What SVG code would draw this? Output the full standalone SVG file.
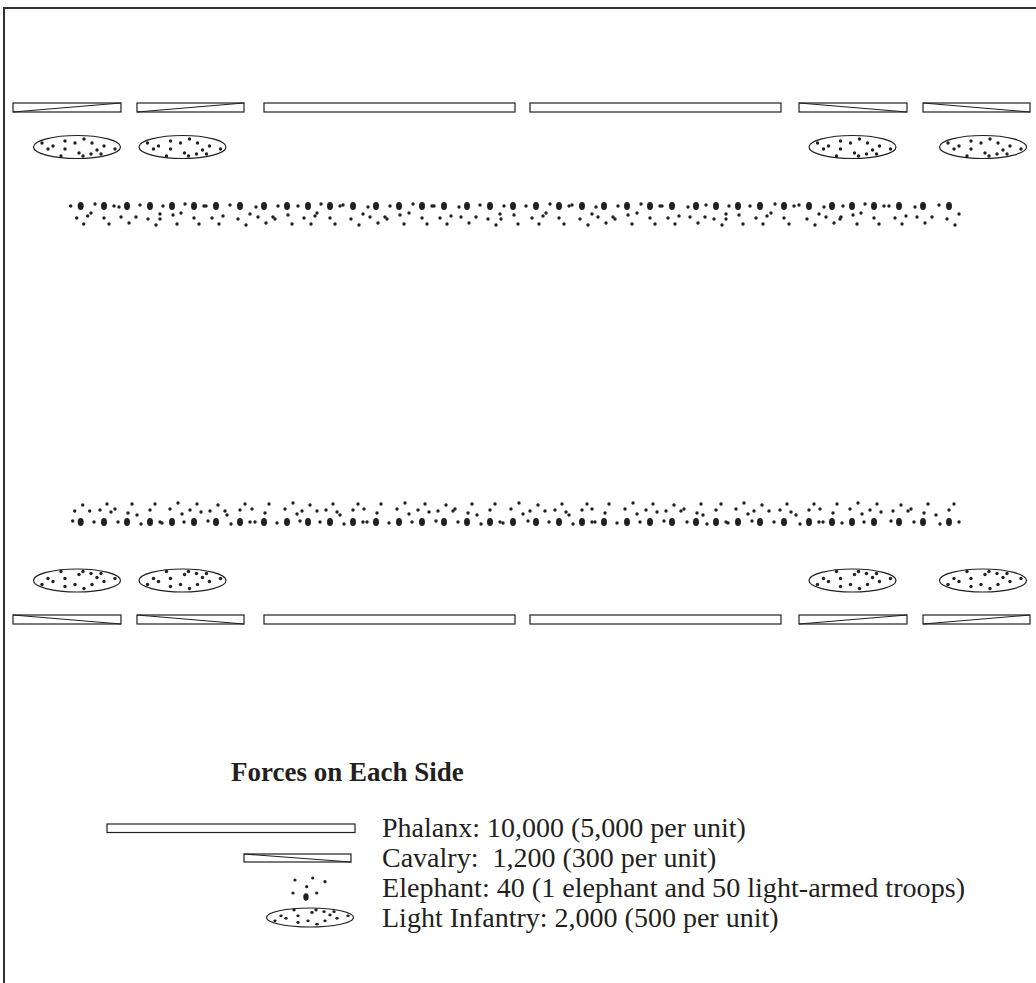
<svg xmlns="http://www.w3.org/2000/svg" xmlns:xlink="http://www.w3.org/1999/xlink" width="1036" height="983" viewBox="0 0 1036 983">
<style>
.unit{fill:#fff;stroke:#231f20;stroke-width:1.2}
.diag{fill:none;stroke:#231f20;stroke-width:1.1}
.lbl{font-family:"Liberation Serif","Times New Roman",serif;font-size:28px;fill:#231f20;white-space:pre}
.ttl{font-family:"Liberation Serif","Times New Roman",serif;font-size:27px;font-weight:bold;fill:#231f20}
.d{fill:#231f20}
</style>
<defs>
<g id="eA" class="d"><ellipse rx="3" ry="4"/><circle cx="-10" cy="0" r="1.7"/><circle cx="-4" cy="12" r="1.7"/><circle cx="7" cy="10" r="1.7"/><circle cx="3" cy="18" r="1.7"/></g>
<g id="eB" class="d"><ellipse rx="3" ry="4"/><circle cx="-9" cy="-2" r="1.7"/><circle cx="-13" cy="7" r="1.7"/><circle cx="0" cy="12" r="1.7"/><circle cx="5" cy="18" r="1.7"/><circle cx="10" cy="0" r="1.7"/></g>
<g id="eC" class="d"><ellipse rx="3" ry="4"/><circle cx="-8" cy="1" r="1.7"/><circle cx="-6" cy="11" r="1.7"/><circle cx="2" cy="17" r="1.7"/><circle cx="9" cy="11" r="1.7"/></g>
<g id="eD" class="d"><ellipse rx="3" ry="4"/><circle cx="-10" cy="-1" r="1.7"/><circle cx="-2" cy="13" r="1.7"/><circle cx="6" cy="19" r="1.7"/><circle cx="10" cy="8" r="1.7"/></g>
<g id="eE" class="d"><ellipse rx="3" ry="4"/><circle cx="-9" cy="0" r="1.7"/><circle cx="-12" cy="13" r="1.7"/><circle cx="1" cy="9" r="1.7"/><circle cx="5" cy="18" r="1.7"/></g>
<g id="li">
<ellipse class="unit" rx="43.5" ry="11.5"/>
<g class="d">
<circle cx="-35" cy="-4" r="1.7"/><circle cx="-24" cy="-1" r="1.7"/><circle cx="-12" cy="-6" r="1.7"/><circle cx="-2" cy="-4" r="1.7"/><circle cx="7" cy="-8" r="1.7"/><circle cx="15" cy="-4" r="1.7"/><circle cx="27" cy="-1" r="1.7"/><circle cx="38" cy="2" r="1.7"/><circle cx="-29" cy="2" r="1.7"/><circle cx="-16" cy="9" r="1.7"/><circle cx="2" cy="6" r="1.7"/><circle cx="6" cy="9" r="1.7"/><circle cx="14" cy="7" r="1.7"/><circle cx="24" cy="7" r="1.7"/><circle cx="20" cy="3" r="1.7"/><circle cx="-12" cy="2" r="1.7"/>
</g>
</g>
</defs>
<rect width="1036" height="983" fill="#fff"/>
<g id="border"><path d="M4,983 V8 H1036" fill="none" stroke="#333" stroke-width="2"/></g>

<g id="top-army">
<g id="top-cavalry-1"><rect class="unit" x="13" y="103" width="108" height="9"/><line class="diag" x1="13" y1="112" x2="121" y2="103"/></g>
<g id="top-cavalry-2"><rect class="unit" x="137" y="103" width="107" height="9"/><line class="diag" x1="137" y1="112" x2="244" y2="103"/></g>
<g id="top-phalanx-1"><rect class="unit" x="264" y="103" width="251" height="9"/></g>
<g id="top-phalanx-2"><rect class="unit" x="530" y="103" width="251" height="9"/></g>
<g id="top-cavalry-3"><rect class="unit" x="799" y="103" width="108" height="9"/><line class="diag" x1="799" y1="103" x2="907" y2="112"/></g>
<g id="top-cavalry-4"><rect class="unit" x="923" y="103" width="107" height="9"/><line class="diag" x1="923" y1="103" x2="1030" y2="112"/></g>
<g id="top-light-1"><use href="#li" transform="translate(77,147)"/></g>
<g id="top-light-2"><use href="#li" transform="translate(182.5,147)"/></g>
<g id="top-light-3"><use href="#li" transform="translate(852.5,147)"/></g>
<g id="top-light-4"><use href="#li" transform="translate(983,147)"/></g>
<g id="top-elephants">
<use href="#eA" x="80.7" y="206"/><use href="#eB" x="104" y="206"/><use href="#eC" x="127" y="206"/><use href="#eD" x="150" y="206"/><use href="#eE" x="172" y="206"/>
<use href="#eB" x="194" y="206"/><use href="#eA" x="216" y="206"/><use href="#eD" x="240" y="206"/><use href="#eC" x="264" y="206"/><use href="#eE" x="287" y="206"/>
<use href="#eA" x="308" y="206"/><use href="#eB" x="330" y="206"/><use href="#eD" x="353" y="206"/><use href="#eC" x="376" y="206"/><use href="#eE" x="399" y="206"/>
<use href="#eB" x="422" y="206"/><use href="#eA" x="444" y="206"/><use href="#eC" x="467" y="206"/><use href="#eD" x="490" y="206"/><use href="#eE" x="513" y="206"/>
<use href="#eA" x="536" y="206"/><use href="#eB" x="559" y="206"/><use href="#eD" x="582" y="206"/><use href="#eC" x="604" y="206"/><use href="#eE" x="627" y="206"/>
<use href="#eB" x="650" y="206"/><use href="#eA" x="672" y="206"/><use href="#eC" x="696" y="206"/><use href="#eD" x="716" y="206"/><use href="#eE" x="738" y="206"/>
<use href="#eA" x="760" y="206"/><use href="#eB" x="784" y="206"/><use href="#eD" x="809" y="206"/><use href="#eC" x="832" y="206"/><use href="#eE" x="852" y="206"/>
<use href="#eB" x="874" y="206"/><use href="#eA" x="899" y="206"/><use href="#eC" x="923" y="206"/><use href="#eD" x="949" y="206"/>
</g>
</g>

<g id="bottom-army">
<g id="bottom-elephants">
<use href="#eC" transform="translate(80.7,522) scale(1,-1)"/><use href="#eA" transform="translate(104,522) scale(1,-1)"/><use href="#eE" transform="translate(127,522) scale(1,-1)"/><use href="#eB" transform="translate(150,522) scale(1,-1)"/><use href="#eD" transform="translate(172,522) scale(1,-1)"/>
<use href="#eA" transform="translate(194,522) scale(1,-1)"/><use href="#eC" transform="translate(216,522) scale(1,-1)"/><use href="#eB" transform="translate(240,522) scale(1,-1)"/><use href="#eE" transform="translate(264,522) scale(1,-1)"/><use href="#eD" transform="translate(287,522) scale(1,-1)"/>
<use href="#eC" transform="translate(308,522) scale(1,-1)"/><use href="#eA" transform="translate(330,522) scale(1,-1)"/><use href="#eB" transform="translate(353,522) scale(1,-1)"/><use href="#eE" transform="translate(376,522) scale(1,-1)"/><use href="#eD" transform="translate(399,522) scale(1,-1)"/>
<use href="#eA" transform="translate(422,522) scale(1,-1)"/><use href="#eC" transform="translate(444,522) scale(1,-1)"/><use href="#eE" transform="translate(467,522) scale(1,-1)"/><use href="#eB" transform="translate(490,522) scale(1,-1)"/><use href="#eD" transform="translate(513,522) scale(1,-1)"/>
<use href="#eC" transform="translate(536,522) scale(1,-1)"/><use href="#eA" transform="translate(559,522) scale(1,-1)"/><use href="#eB" transform="translate(582,522) scale(1,-1)"/><use href="#eE" transform="translate(604,522) scale(1,-1)"/><use href="#eD" transform="translate(627,522) scale(1,-1)"/>
<use href="#eA" transform="translate(650,522) scale(1,-1)"/><use href="#eC" transform="translate(672,522) scale(1,-1)"/><use href="#eE" transform="translate(696,522) scale(1,-1)"/><use href="#eB" transform="translate(716,522) scale(1,-1)"/><use href="#eD" transform="translate(738,522) scale(1,-1)"/>
<use href="#eC" transform="translate(760,522) scale(1,-1)"/><use href="#eA" transform="translate(784,522) scale(1,-1)"/><use href="#eB" transform="translate(809,522) scale(1,-1)"/><use href="#eE" transform="translate(832,522) scale(1,-1)"/><use href="#eD" transform="translate(852,522) scale(1,-1)"/>
<use href="#eA" transform="translate(874,522) scale(1,-1)"/><use href="#eC" transform="translate(899,522) scale(1,-1)"/><use href="#eE" transform="translate(923,522) scale(1,-1)"/><use href="#eB" transform="translate(949,522) scale(1,-1)"/>
</g>
<g id="bottom-light-1"><use href="#li" transform="translate(77,580.5) scale(1,-1)"/></g>
<g id="bottom-light-2"><use href="#li" transform="translate(182.5,580.5) scale(1,-1)"/></g>
<g id="bottom-light-3"><use href="#li" transform="translate(852.5,580.5) scale(1,-1)"/></g>
<g id="bottom-light-4"><use href="#li" transform="translate(983,580.5) scale(1,-1)"/></g>
<g id="bottom-cavalry-1"><rect class="unit" x="13" y="615" width="108" height="9"/><line class="diag" x1="13" y1="615" x2="121" y2="624"/></g>
<g id="bottom-cavalry-2"><rect class="unit" x="137" y="615" width="107" height="9"/><line class="diag" x1="137" y1="615" x2="244" y2="624"/></g>
<g id="bottom-phalanx-1"><rect class="unit" x="264" y="615" width="251" height="9"/></g>
<g id="bottom-phalanx-2"><rect class="unit" x="530" y="615" width="251" height="9"/></g>
<g id="bottom-cavalry-3"><rect class="unit" x="799" y="615" width="108" height="9"/><line class="diag" x1="799" y1="624" x2="907" y2="615"/></g>
<g id="bottom-cavalry-4"><rect class="unit" x="923" y="615" width="107" height="9"/><line class="diag" x1="923" y1="624" x2="1030" y2="615"/></g>
</g>

<g id="legend">
<text class="ttl" x="231" y="781">Forces on Each Side</text>
<g id="legend-phalanx"><rect class="unit" x="107" y="824" width="248" height="8.5"/>
<text class="lbl" x="382" y="837">Phalanx: 10,000 (5,000 per unit)</text></g>
<g id="legend-cavalry"><rect class="unit" x="244" y="854" width="107" height="8"/><line class="diag" x1="244" y1="854" x2="351" y2="862"/>
<text class="lbl" x="382" y="867">Cavalry:  1,200 (300 per unit)</text></g>
<g id="legend-elephant" class="d"><ellipse cx="306" cy="897" rx="2.7" ry="3.7"/><circle cx="295" cy="880" r="1.6"/><circle cx="312.7" cy="878" r="1.6"/><circle cx="325" cy="881.7" r="1.6"/><circle cx="306.7" cy="886.7" r="1.6"/><circle cx="293" cy="893" r="1.6"/><circle cx="316.7" cy="893" r="1.6"/>
<text class="lbl" x="382" y="897" textLength="583" lengthAdjust="spacingAndGlyphs">Elephant: 40 (1 elephant and 50 light-armed troops)</text></g>
<g id="legend-light"><use href="#li" transform="translate(310,917.5) scale(1,-0.83)"/>
<text class="lbl" x="382" y="927">Light Infantry: 2,000 (500 per unit)</text></g>
</g>
</svg>
